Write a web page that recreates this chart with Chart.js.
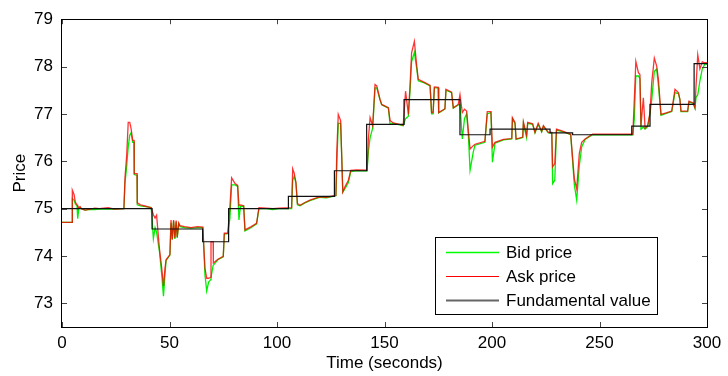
<!DOCTYPE html>
<html>
<head>
<meta charset="utf-8">
<script src="https://cdn.jsdelivr.net/npm/chart.js@4.4.1/dist/chart.umd.min.js"></script>
<style>
  html, body { margin: 0; padding: 0; background: #fff; }
  #wrap { width: 728px; height: 376px; position: relative; }
</style>
</head>
<body>
<div id="wrap"><canvas id="c" width="728" height="376"></canvas></div>
<script>
// ---- data ----
const seriesLabels = ['Bid price', 'Ask price', 'Fundamental value'];
const xTitle = 'Time (seconds)';
const yTitle = 'Price';

const times = [0, 4.7, 4.8, 5.6, 6.2, 7.0, 7.3, 7.8, 8.4, 9.0, 10.7, 12.0, 15.3, 17.3, 21.5, 24.2, 28.8, 29.3, 30.1, 30.8,
  31.5, 32.1, 32.9, 33.5, 33.6, 34.9, 35.0, 36.5, 39.0, 41.5, 42.5, 43.3, 44.0, 45.3, 46.4, 47.2, 47.9, 48.4, 50.2, 50.7,
  51.3, 51.9, 52.5, 53.1, 53.6, 54.3, 54.9, 57.0, 60.0, 63.0, 65.5, 66.5, 67.3, 68.2, 69.2, 69.3, 70.3, 70.4, 72.5, 75.0,
  75.5, 77.1, 78.1, 78.9, 80.5, 81.7, 82.3, 83.0, 84.5, 85.1, 88.0, 90.5, 91.6, 95.0, 98.0, 101.0, 106.8, 107.3, 108.0, 108.8,
  109.5, 110.7, 113.0, 115.3, 118.0, 120.0, 123.0, 127.4, 127.8, 128.5, 129.6, 130.1, 130.6, 131.6, 133.2, 134.3, 137.0, 141.9, 142.5, 143.3,
  144.5, 145.6, 146.4, 147.9, 148.7, 151.8, 152.6, 154.1, 158.7, 159.8, 161.1, 161.9, 162.6, 163.9, 165.0, 165.7, 168.8, 171.2, 171.9, 172.6,
  173.2, 175.0, 175.2, 178.1, 178.6, 181.2, 182.0, 184.3, 185.1, 186.2, 187.2, 188.2, 189.0, 189.8, 191.3, 192.1, 196.7, 197.8, 199.5, 200.2,
  201.4, 205.3, 209.2, 209.5, 210.7, 211.2, 214.3, 214.6, 216.1, 216.6, 218.9, 220.0, 221.5, 223.1, 223.9, 226.2, 227.8, 228.2, 229.2, 230.0,
  233.2, 236.6, 238.3, 239.4, 240.6, 241.7, 243.3, 245.6, 246.8, 265.5, 266.2, 266.9, 268.1, 268.8, 269.3, 270.4, 271.2, 272.4, 273.5, 274.3,
  275.5, 276.6, 277.4, 278.6, 281.0, 283.6, 285.1, 286.7, 287.4, 287.9, 291.0, 291.6, 293.6, 294.4, 294.9, 295.7, 296.7, 297.8, 299.0, 300.0];

const askPrice = [74.71, 74.71, 75.39, 75.30, 75.14, 75.08, 75.05, 75.02, 75.04, 75.00, 74.97, 74.98, 75.01, 75.00, 75.02, 74.99, 75.00, 75.65, 76.13, 76.82,
  76.82, 76.70, 76.44, 76.44, 75.74, 75.74, 75.12, 75.08, 75.05, 75.02, 74.87, 74.80, 74.86, 74.16, 73.74, 73.36, 73.74, 73.92, 74.03, 74.76,
  74.35, 74.76, 74.38, 74.75, 74.40, 74.70, 74.64, 74.62, 74.60, 74.62, 74.61, 73.74, 73.53, 73.53, 73.55, 74.30, 74.30, 73.85, 73.93, 73.99,
  74.48, 74.48, 75.04, 75.65, 75.53, 75.49, 75.07, 75.08, 75.06, 74.55, 74.62, 74.69, 75.02, 75.01, 75.00, 75.01, 75.02, 75.84, 75.75, 75.56,
  75.11, 75.07, 75.13, 75.18, 75.22, 75.25, 75.24, 75.28, 76.19, 76.99, 76.86, 76.12, 75.35, 75.46, 75.60, 75.81, 75.82, 75.81, 76.47, 76.92,
  76.75, 77.62, 77.59, 77.31, 77.20, 77.13, 76.86, 76.81, 76.76, 77.48, 76.99, 77.62, 78.29, 78.53, 78.01, 77.73, 77.66, 77.60, 77.03, 77.03,
  77.57, 77.56, 77.03, 77.11, 77.52, 77.46, 77.13, 77.20, 77.41, 77.03, 77.10, 77.06, 76.65, 76.26, 76.33, 76.36, 76.42, 77.05, 77.05, 76.30,
  76.40, 76.46, 76.48, 76.92, 76.82, 76.47, 76.51, 76.83, 76.55, 76.82, 76.79, 76.61, 76.80, 76.63, 76.75, 76.61, 76.61, 75.88, 75.95, 76.68,
  76.63, 76.57, 75.63, 75.42, 76.16, 76.40, 76.47, 76.54, 76.57, 76.57, 77.31, 78.11, 77.87, 77.83, 76.75, 77.34, 76.70, 76.75, 77.03, 77.66,
  78.18, 78.01, 77.73, 76.99, 77.02, 77.06, 77.52, 77.45, 77.31, 77.06, 77.06, 77.27, 77.23, 77.13, 77.59, 78.25, 77.95, 78.10, 78.08, 78.08];

const bidPrice = [74.71, 74.71, 75.21, 75.18, 75.10, 75.06, 74.79, 75.00, 75.03, 75.00, 74.97, 74.98, 74.98, 74.99, 74.99, 74.99, 75.00, 75.55, 75.90, 76.30,
  76.55, 76.60, 76.40, 76.40, 75.72, 75.70, 75.08, 75.06, 75.04, 75.02, 74.37, 74.60, 74.50, 74.10, 73.60, 73.15, 73.60, 73.90, 74.02, 74.70,
  74.35, 74.74, 74.36, 74.72, 74.38, 74.68, 74.62, 74.60, 74.59, 74.60, 74.60, 73.60, 73.26, 73.45, 73.50, 73.55, 73.80, 73.80, 73.92, 73.98,
  74.46, 74.47, 74.80, 75.50, 75.50, 75.47, 74.76, 75.05, 75.05, 74.53, 74.60, 74.68, 75.00, 75.00, 74.98, 75.00, 75.00, 75.60, 75.68, 75.54,
  75.08, 75.06, 75.12, 75.17, 75.21, 75.24, 75.23, 75.27, 75.90, 76.80, 76.80, 76.10, 75.35, 75.42, 75.55, 75.78, 75.80, 75.80, 76.20, 76.50,
  76.70, 77.55, 77.55, 77.30, 77.19, 77.12, 76.78, 76.80, 76.75, 76.90, 76.95, 77.50, 78.10, 78.30, 77.95, 77.70, 77.65, 77.59, 77.00, 77.00,
  77.55, 77.55, 77.02, 77.10, 77.50, 77.45, 77.12, 77.19, 77.20, 76.47, 76.90, 77.00, 76.55, 75.81, 76.20, 76.34, 76.40, 77.00, 77.03, 75.98,
  76.38, 76.45, 76.47, 76.90, 76.80, 76.46, 76.50, 76.80, 76.50, 76.80, 76.78, 76.60, 76.78, 76.62, 76.74, 76.60, 76.60, 75.53, 75.60, 76.66,
  76.62, 76.56, 75.50, 75.18, 75.90, 76.30, 76.46, 76.53, 76.56, 76.56, 76.90, 77.80, 77.80, 77.75, 76.68, 76.72, 76.68, 76.73, 77.00, 77.30,
  77.90, 77.95, 77.60, 76.97, 77.01, 77.05, 77.45, 77.43, 77.30, 77.05, 77.05, 77.25, 77.22, 77.12, 77.35, 77.40, 77.70, 77.95, 78.05, 78.05];

const fundTimes = [0, 41.9, 65.4, 77.5, 105.3, 126.7, 141.7, 159.1, 185.1, 199.1, 227.0, 237.5, 265.0, 273.5, 294.0, 300];
const fundValue = [75.00, 74.57, 74.30, 75.00, 75.26, 75.80, 76.78, 77.30, 76.56, 76.68, 76.60, 76.56, 76.74, 77.20, 78.06, 78.06];

const xRange = [0, 300];
const yRange = [72.5, 79];
const xStep = 50;
const yStep = 1;

// ---- chart ----
const FONT = "'Liberation Sans', Arial, Helvetica, sans-serif";
Chart.defaults.font.family = FONT;
Chart.defaults.font.size = 17;
Chart.defaults.color = '#000';

const toXY = (xs, ys) => xs.map((t, i) => ({ x: t, y: ys[i] }));

const framePlugin = {
  id: 'frame',
  afterDatasetsDraw(chart) {
    const { ctx, chartArea: a, scales } = chart;
    ctx.save();
    ctx.lineWidth = 1;
    ctx.strokeStyle = '#444';
    const L = 5;
    ctx.beginPath();
    scales.x.ticks.forEach(tk => {
      const px = Math.round(scales.x.getPixelForValue(tk.value)) + 0.5;
      ctx.moveTo(px, a.bottom); ctx.lineTo(px, a.bottom - L);
      ctx.moveTo(px, a.top); ctx.lineTo(px, a.top + L);
    });
    scales.y.ticks.forEach(tk => {
      const py = Math.round(scales.y.getPixelForValue(tk.value)) + 0.5;
      ctx.moveTo(a.left, py); ctx.lineTo(a.left + L, py);
      ctx.moveTo(a.right, py); ctx.lineTo(a.right - L, py);
    });
    ctx.stroke();
    ctx.strokeStyle = '#000';
    ctx.strokeRect(Math.round(a.left) - 0.5, Math.round(a.top) + 0.5,
                   Math.round(a.right - a.left) + 1, Math.round(a.bottom - a.top));
    ctx.restore();
  },
  afterDraw(chart) {
    const { ctx, chartArea: a } = chart;
    const right = a.right - 50, bottom = a.bottom - 13;
    const w = 222, h = 77;
    const left = right - w, top = bottom - h;
    ctx.save();
    ctx.fillStyle = '#fff';
    ctx.fillRect(left, top, w, h);
    ctx.strokeStyle = '#000';
    ctx.lineWidth = 1;
    ctx.strokeRect(left + 0.5, top + 0.5, w, h);
    ctx.font = '17px ' + FONT;
    ctx.textBaseline = 'middle';
    ctx.textAlign = 'left';
    chart.data.datasets.forEach((ds, i) => {
      const y = top + 15.5 + i * 24;
      ctx.beginPath();
      ctx.strokeStyle = ds.legendColor;
      ctx.lineWidth = ds.legendWidth;
      ctx.moveTo(left + 11, y);
      ctx.lineTo(left + 64, y);
      ctx.stroke();
      ctx.fillStyle = '#000';
      ctx.fillText(ds.label, left + 71, y + 1);
    });
    ctx.restore();
  }
};

new Chart(document.getElementById('c'), {
  type: 'line',
  data: {
    datasets: [
      {
        label: seriesLabels[0],
        data: toXY(times, bidPrice),
        borderColor: '#00ee00',
        legendColor: '#00ff00',
        legendWidth: 1.5,
        borderWidth: 1.3,
        pointRadius: 0,
        tension: 0,
        order: 2
      },
      {
        label: seriesLabels[1],
        data: toXY(times, askPrice),
        borderColor: 'rgba(255,0,0,0.8)',
        legendColor: '#ff0000',
        legendWidth: 1,
        borderWidth: 1.3,
        pointRadius: 0,
        tension: 0,
        order: 1
      },
      {
        label: seriesLabels[2],
        data: toXY(fundTimes, fundValue),
        borderColor: '#111',
        legendColor: '#666',
        legendWidth: 2,
        borderWidth: 1.2,
        pointRadius: 0,
        stepped: true,
        order: 0
      }
    ]
  },
  options: {
    responsive: false,
    animation: false,
    devicePixelRatio: 1,
    layout: { padding: { top: 16, right: 21, left: 0, bottom: 0 } },
    plugins: {
      legend: { display: false },
      tooltip: { enabled: false }
    },
    scales: {
      x: {
        type: 'linear',
        min: xRange[0], max: xRange[1],
        grid: { display: false, drawTicks: false },
        border: { display: false },
        ticks: { stepSize: xStep, padding: 6, maxRotation: 0, color: '#000' },
        title: { display: true, text: xTitle, padding: { top: 0, bottom: 2 }, color: '#000' },
        afterFit(s) { s.height = 49; }
      },
      y: {
        type: 'linear',
        min: yRange[0], max: yRange[1],
        grid: { display: false, drawTicks: false },
        border: { display: false },
        ticks: { stepSize: yStep, padding: 9, includeBounds: false, color: '#000' },
        title: { display: true, text: yTitle, padding: { top: 10, bottom: 0 }, color: '#000' },
        afterFit(s) { s.width = 62; }
      }
    }
  },
  plugins: [framePlugin]
});
</script>
</body>
</html>
